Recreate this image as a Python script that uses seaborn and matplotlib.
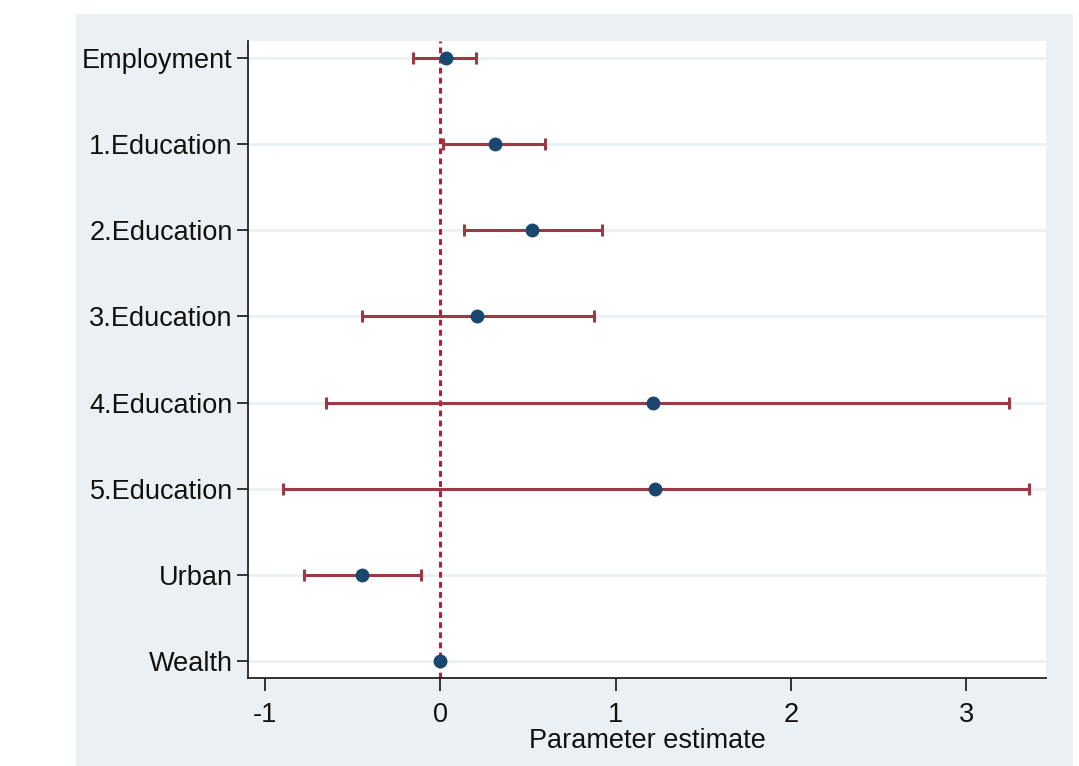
import numpy as np
import pandas as pd
import matplotlib
matplotlib.use("Agg")
import matplotlib.pyplot as plt
import seaborn as sns
from matplotlib.patches import Rectangle

# Coefficient estimates with 95% CI
terms = ["Employment", "1.Education", "2.Education", "3.Education",
         "4.Education", "5.Education", "Urban", "Wealth"]
estimate = [0.03, 0.31, 0.525, 0.21, 1.215, 1.225, -0.445, 0.0]
ci_low = [-0.155, 0.015, 0.135, -0.445, -0.65, -0.90, -0.78, 0.0]
ci_high = [0.205, 0.60, 0.925, 0.875, 3.245, 3.36, -0.11, 0.0]
x_ticks = [-1, 0, 1, 2, 3]

df = pd.DataFrame({"term": terms, "est": estimate, "lo": ci_low, "hi": ci_high})
df["pos"] = np.arange(len(df))

sns.set_theme(style="white")
plt.rcParams["font.family"] = ["Liberation Sans", "DejaVu Sans"]

BG = "#EAF0F3"
NAVY = "#1A476F"
CI_RED = "#9B3A44"
ZERO_RED = "#C8143C"
FS = 19.5

fig = plt.figure(figsize=(10.79, 7.66), dpi=100)
fig.patch.set_facecolor("white")
# Stata-like outer panel, kept behind the axes
fig.patches.append(Rectangle((76 / 1079, 0), (1073 - 76) / 1079, (766 - 14) / 766,
                             transform=fig.transFigure, facecolor=BG,
                             edgecolor="none", zorder=-10))

ax = fig.add_axes([248 / 1079, 1 - 678 / 766, (1046 - 248) / 1079, (678 - 41) / 766])
ax.set_facecolor("white")

# grid lines at each term
for p in df["pos"]:
    ax.axhline(p, color=BG, lw=2, zorder=0)

ax.axvline(0, color=ZERO_RED, lw=2.2, ls=(0, (1.9, 1.4)), zorder=1)

err = df[df["hi"] > df["lo"]]
ax.errorbar(err["est"], err["pos"],
            xerr=[err["est"] - err["lo"], err["hi"] - err["est"]],
            fmt="none", ecolor=CI_RED, elinewidth=2.2, capsize=4.5, capthick=2.2, zorder=2)

sns.scatterplot(data=df, x="est", y="pos", color=NAVY, s=100, edgecolor=NAVY,
                linewidth=0, zorder=3, ax=ax)

ax.set_xlim(-1.097, 3.456)
ax.set_ylim(len(df) - 1 + 0.198, -0.198)
ax.set_yticks(df["pos"])
ax.set_yticklabels(df["term"], fontsize=FS, color="#111111")
ax.set_xticks(x_ticks)
ax.set_xticklabels([str(t) for t in x_ticks], fontsize=FS, color="#111111")
ax.set_xlabel("Parameter estimate", fontsize=FS, color="#111111", labelpad=0)
ax.set_ylabel("")

for s in ["top", "right"]:
    ax.spines[s].set_visible(False)
for s in ["left", "bottom"]:
    ax.spines[s].set_color("#222222")
    ax.spines[s].set_linewidth(1.3)

ax.tick_params(axis="y", direction="out", length=8, width=1.3, color="#222222", pad=3, left=True)
ax.tick_params(axis="x", direction="out", length=9, width=1.3, color="#222222", pad=8, bottom=True)
ax.grid(False)

fig.savefig("out.png", dpi=100, facecolor=fig.get_facecolor())
